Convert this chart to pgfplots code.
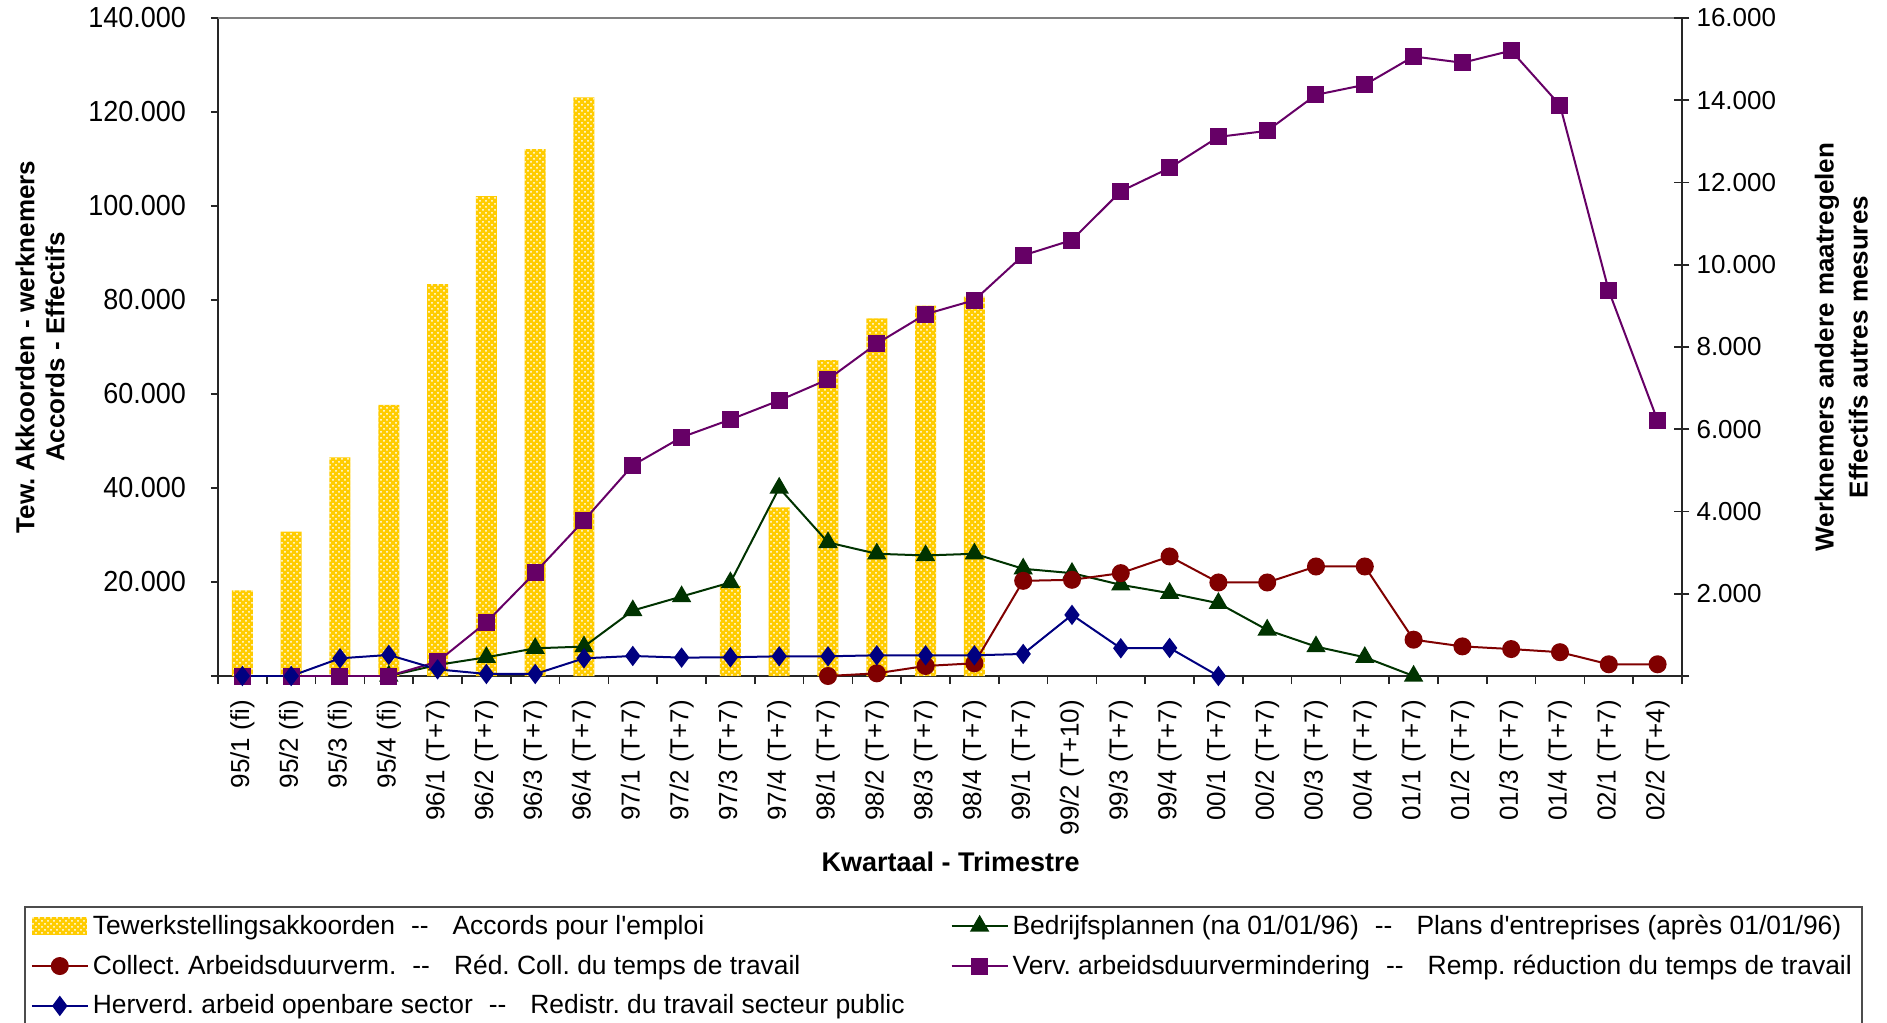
\documentclass[border=0pt]{standalone}
\usepackage{fontspec}
\setmainfont{Liberation Sans}
\usepackage{graphicx}
\usepackage{pgfplots}
\pgfplotsset{compat=1.18}
\usetikzlibrary{patterns}
\frenchspacing

\definecolor{barY}{HTML}{FFCC00}
\definecolor{grn}{HTML}{003300}
\definecolor{dred}{HTML}{800000}
\definecolor{purp}{HTML}{660066}
\definecolor{navy}{HTML}{000080}

\newcommand{\tf}{\fontsize{13}{15}\selectfont}
\newcommand{\nl}[1]{\scalebox{0.93}[1]{#1}}
\newcommand{\sep}{\hspace{8pt}-{}-\hspace{12pt}}
\newcommand{\q}{\textquotesingle}

\pgfplotsset{
  barlegend/.style={legend image code/.code={\path[##1] (0pt,-4.3pt) rectangle (27.5pt,4.3pt);}},
}

\begin{document}
\begin{tikzpicture}
% left axis: employment agreements (bars)
\begin{axis}[
  scale only axis, width=732pt, height=329pt,
  xmin=-0.5, xmax=29.5, ymin=0, ymax=140000,
  axis x line*=bottom, axis y line*=left,
  axis line style={-, black!85, line width=0.8pt},
  tick align=outside,
  xtick={0,...,29},
  xticklabels={95/1 (fi),95/2 (fi),95/3 (fi),95/4 (fi),96/1 (T+7),96/2 (T+7),96/3 (T+7),96/4 (T+7),97/1 (T+7),97/2 (T+7),97/3 (T+7),97/4 (T+7),98/1 (T+7),98/2 (T+7),98/3 (T+7),98/4 (T+7),99/1 (T+7),99/2 (T+10),99/3 (T+7),99/4 (T+7),00/1 (T+7),00/2 (T+7),00/3 (T+7),00/4 (T+7),01/1 (T+7),01/2 (T+7),01/3 (T+7),01/4 (T+7),02/1 (T+7),02/2 (T+4)},
  major x tick style={draw=none},
  minor xtick={-0.5,0.5,...,29.5}, minor tick length=4pt,
  minor x tick style={black!85, line width=0.8pt},
  x tick label style={rotate=90, anchor=east, font=\tf, xshift=-5pt},
  ytick={0,20000,40000,60000,80000,100000,120000,140000},
  yticklabels={{},\nl{20.000},\nl{40.000},\nl{60.000},\nl{80.000},\nl{100.000},\nl{120.000},\nl{140.000}},
  scaled y ticks=false,
  major tick length=3.5pt, ytick style={black!85, line width=0.8pt},
  y tick label style={font=\fontsize{14.5}{16}\selectfont, xshift=-9pt},
  xlabel={Kwartaal - Trimestre},
  xlabel style={font=\bfseries\fontsize{13.5}{16}\selectfont, at={(axis description cs:0.5004,-0.2827)}, anchor=center},
  ylabel={Tew. Akkoorden - werknemers\\Accords - Effectifs},
  ylabel style={align=center, font=\bfseries\tf, at={(axis description cs:-0.1216,0.5)}, anchor=center},
  ybar, bar width=10.5pt,
]
\addplot[fill=barY, draw=none, postaction={pattern=crosshatch dots, pattern color=white}] coordinates {
  (0,18200) (1,30700) (2,46500) (3,57700) (4,83400) (5,102100) (6,112100) (7,123100)
  (10,19200) (11,35900) (12,67200) (13,76100) (14,78800) (15,80700)
};
\draw[black!50, line width=0.8pt] (rel axis cs:0,1) -- (rel axis cs:1,1);
\end{axis}
% right axis: other measures (lines)
\begin{axis}[
  scale only axis, width=732pt, height=329pt,
  xmin=-0.5, xmax=29.5, ymin=0, ymax=16000,
  axis x line=none, axis y line*=right,
  axis line style={-, black!85, line width=0.8pt},
  ytick={0,2000,4000,6000,8000,10000,12000,14000,16000},
  yticklabels={{},2.000,4.000,6.000,8.000,10.000,12.000,14.000,16.000},
  scaled y ticks=false,
  tick align=center, major tick length=7.5pt,
  ytick style={black!85, line width=0.8pt},
  y tick label style={font=\tf},
  ylabel={Werknemers andere maatregelen\\[2pt]Effectifs autres mesures},
  ylabel style={align=center, font=\bfseries\tf, at={(axis description cs:1.1089,0.5)}, anchor=center},
  legend columns=2,
  legend cell align=left,
  legend image code/.code={\draw[mark repeat=2,mark phase=2,#1] plot coordinates {(0pt,0pt) (14pt,0pt) (28pt,0pt)};},
  legend style={at={(-0.1325,-0.3495)}, anchor=north west, draw=black!70, line width=0.8pt,
    font=\fontsize{13.2}{15}\selectfont, row sep=4.8pt, /tikz/column 2/.style={column sep=21pt}},
]
\addlegendimage{barlegend, fill=barY, draw=none, postaction={pattern=crosshatch dots, pattern color=white}}
\addlegendentry{Tewerkstellingsakkoorden\sep Accords pour l\q emploi}
\addplot[color=grn, line width=1pt, mark=triangle*, mark size=4.6pt, mark options={solid}] coordinates {
  (3,0) (4,270) (5,455) (6,674) (7,715) (8,1592) (9,1933) (10,2274) (11,4572) (12,3248)
  (13,2972) (14,2931) (15,2972) (16,2607) (17,2501) (18,2217) (19,2014) (20,1770)
  (21,1121) (22,715) (23,455) (24,0)
};
\addlegendentry{Bedrijfsplannen (na 01/01/96)\sep Plans d\q entreprises (après 01/01/96)}
\addplot[color=dred, line width=1pt, mark=*, mark size=4pt, mark options={solid}] coordinates {
  (12,0) (13,65) (14,244) (15,309) (16,2314) (17,2339) (18,2501) (19,2907) (20,2274)
  (21,2274) (22,2663) (23,2663) (24,883) (25,720) (26,655) (27,579) (28,285) (29,285)
};
\addlegendentry{Collect. Arbeidsduurverm.\sep Réd. Coll. du temps de travail}
\addplot[color=purp, line width=1pt, mark=square*, mark size=3.75pt, mark options={solid}] coordinates {
  (0,0) (1,0) (2,0) (3,0) (4,350) (5,1307) (6,2517) (7,3784) (8,5123) (9,5806)
  (10,6236) (11,6700) (12,7214) (13,8083) (14,8798) (15,9139) (16,10227) (17,10600)
  (18,11786) (19,12354) (20,13109) (21,13256) (22,14132) (23,14375) (24,15065)
  (25,14912) (26,15206) (27,13879) (28,9366) (29,6212)
};
\addlegendentry{Verv. arbeidsduurvermindering\sep Remp. réduction du temps de travail}
\addplot[color=navy, line width=1pt, mark=diamond*, mark size=4.3pt, mark options={solid}] coordinates {
  (0,0) (1,0) (2,430) (3,512) (4,162) (5,49) (6,49) (7,430) (8,487) (9,447) (10,455)
  (11,479) (12,479) (13,503) (14,503) (15,503) (16,536) (17,1486) (18,674) (19,682) (20,0)
};
\addlegendentry{Herverd. arbeid openbare sector\sep Redistr. du travail secteur public}
\end{axis}
\pgfresetboundingbox
\useasboundingbox (-109pt,-173.5pt) rectangle (834.5pt,338pt);
\end{tikzpicture}
\end{document}
